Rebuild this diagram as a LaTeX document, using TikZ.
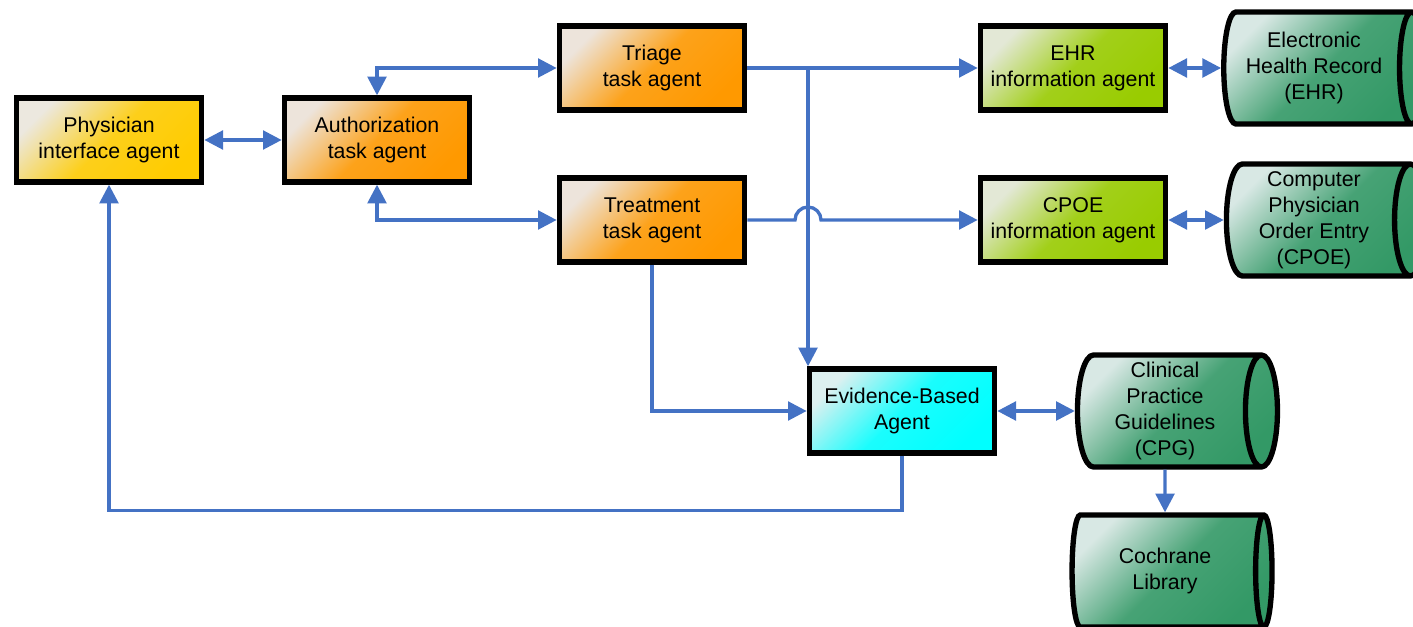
\documentclass[tikz,border=0pt]{standalone}
\usepackage{fontspec}
\setmainfont{Liberation Sans}
\usetikzlibrary{shapes.geometric, arrows.meta}

\definecolor{linkblue}{HTML}{4472C4}
\definecolor{yellowmain}{HTML}{FFCC00}
\definecolor{yellowlight}{HTML}{ECE8DF}
\definecolor{orangemain}{HTML}{FF9900}
\definecolor{orangelight}{HTML}{EDE4DB}
\definecolor{greenmain}{HTML}{99CC00}
\definecolor{greenlight}{HTML}{E3E8D6}
\definecolor{cyanmain}{HTML}{00FFFF}
\definecolor{cyanlight}{HTML}{DCF0F0}
\definecolor{storemain}{HTML}{339966}
\definecolor{storelight}{HTML}{D8E8E4}

\begin{document}
\begin{tikzpicture}[x=0.75pt, y=-0.75pt,
    font=\fontsize{16}{19.5}\selectfont,
    >={Triangle[length=14pt, width=14pt]},
    paint/.style 2 args={top color=#1, bottom color=#2, middle color=#2!88!#1, shading angle=45},
    agent/.style={rectangle, draw=black, line width=4pt, align=center,
        minimum width=139pt, minimum height=63pt},
    store/.style={cylinder, shape border rotate=0, aspect=0.3, draw=black,
        line width=4pt, align=center, minimum width=84pt, minimum height=150pt,
        paint={storelight}{storemain}},
    link/.style={draw=linkblue, line width=2.5pt}
]
    \useasboundingbox (0,0) rectangle (1413,627);

    % Interface and authorization
    \node[agent, paint={yellowlight}{yellowmain}] (Physician) at (109,140) {Physician\\interface agent};
    \node[agent, paint={orangelight}{orangemain}] (Authorization) at (377,140) {Authorization\\task agent};

    % Task agents
    \foreach \name/\y in {Triage/68,Treatment/220} {
        \node[agent, paint={orangelight}{orangemain}] (\name) at (652,\y) {\name\\task agent};
    }

    % Information agents and their stores
    \foreach \name/\y in {EHR/68,CPOE/220} {
        \node[agent, paint={greenlight}{greenmain}] (Info-\name) at (1073,\y) {\name\\information agent};
    }
    \node[store] (Store-EHR) at (1314,68) {Electronic\\Health Record\\(EHR)};
    \node[store] (Store-CPOE) at (1314,220) {Computer\\Physician\\Order Entry\\(CPOE)};

    % Evidence
    \node[agent, paint={cyanlight}{cyanmain}] (Evidence) at (902,411) {Evidence-Based\\Agent};
    \node[store] (Store-CPG) at (1165,411) {Clinical\\Practice\\Guidelines\\(CPG)};
    \node[store] (Store-Cochrane) at (1165,571) {Cochrane\\Library};

    % Arrows
    \coordinate (split) at (808,68);
    \draw[link, <->] (Physician) -- (Authorization);
    \draw[link, <->] (Authorization.north) |- (Triage.west);
    \draw[link, <->] (Authorization.south) |- (Treatment.west);
    \draw[link] (Triage.east) -- (split);
    \draw[link, ->] (split) -- (Info-EHR.west);
    \draw[link, ->] (split) -- (split |- Evidence.north);
    \draw[link, ->] (Treatment.east) -- ([xshift=-9.75pt]split |- Treatment.east)
        arc[start angle=180, end angle=0, radius=9.75pt] -- (Info-CPOE.west);
    \draw[link, ->] (Treatment.south) |- (Evidence.west);
    \draw[link, ->] (Evidence.south) -- ++(0,55) -| (Physician.south);
    \foreach \name in {EHR,CPOE} {
        \draw[link, <->] (Info-\name.east) -- (Store-\name.west);
    }
    \draw[link, <->] (Evidence.east) -- (Store-CPG.west);
    \draw[link, ->] (Store-CPG.south) -- (Store-Cochrane.north);
\end{tikzpicture}
\end{document}
